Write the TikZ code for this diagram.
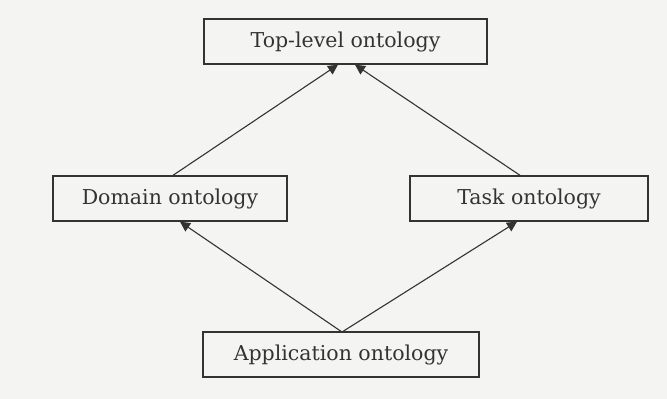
\documentclass[tikz,border=0pt]{standalone}
\usepackage{fontspec}
\setmainfont{DejaVu Serif}
\usetikzlibrary{arrows.meta}
\definecolor{ink}{HTML}{333333}
\definecolor{paper}{HTML}{F4F4F2}
\begin{document}
\begin{tikzpicture}[x=1pt,y=-1pt,
  box/.style={draw=ink,line width=1.4pt,inner sep=0pt,font=\fontsize{20.5}{24}\selectfont,text=ink},
  link/.style={draw=ink,line width=1.1pt,-{Triangle[length=10pt,width=10pt]}}]
\fill[paper] (0,0) rectangle (667,399);
\useasboundingbox (0,0) rectangle (667,399);
\node[box,minimum width=283pt,minimum height=45pt] (top) at (345.5,41.5) {Top-level ontology};
\node[box,minimum width=234pt,minimum height=45pt] (dom) at (170,198.5) {Domain ontology};
\node[box,minimum width=238pt,minimum height=45pt] (task) at (529,198.5) {Task ontology};
\node[box,minimum width=276pt,minimum height=45pt] (app) at (341,354.5) {Application ontology};
\coordinate (apex) at (342,332);
\draw[link] (dom.north -| 173,0) -- (top.south -| 338,0);
\draw[link] (task.north -| 520,0) -- (top.south -| 355,0);
\draw[link] (apex) -- (dom.south -| 180,0);
\draw[link] (apex) -- (task.south -| 517,0);
\end{tikzpicture}
\end{document}
